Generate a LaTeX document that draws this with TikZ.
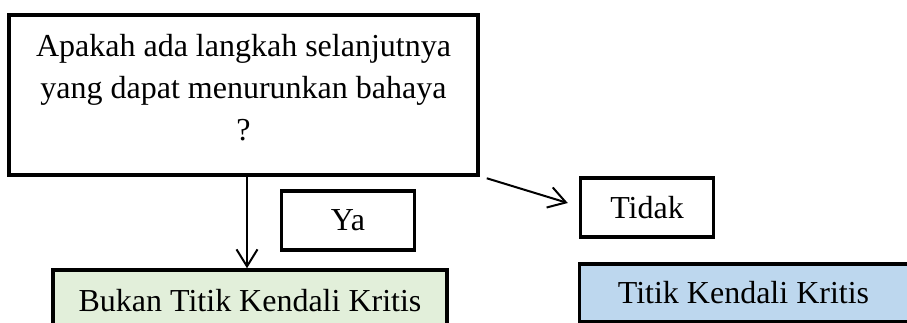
\documentclass[tikz,border=0pt]{standalone}
\usepackage{fontspec}
\setmainfont{Liberation Serif}
\usepackage{xcolor}
\usetikzlibrary{arrows.meta,positioning}
\definecolor{hijau}{RGB}{226,239,218}
\definecolor{biru}{RGB}{189,215,238}

\begin{document}
\begin{tikzpicture}[
  x=1pt,y=1pt,
  font=\fontsize{32}{42}\selectfont,
  box/.style={draw,line width=3.5pt,align=center,inner sep=0pt},
  qbox/.style={box,minimum width=469pt,minimum height=160pt},
  ansbox/.style={box,minimum width=133pt,minimum height=59pt},
  resbox/.style={box,minimum height=62pt},
  flow/.style={-{Straight Barb[length=17pt,width=21pt]},line width=2pt}
]
\path[use as bounding box,clip] (0,0) rectangle (907,-322);

\node[qbox] (q) at (243.5,-95) {};
\node[align=center] (qtext) at (243.5,-88) {Apakah ada langkah selanjutnya\\yang dapat menurunkan bahaya\\?};

\node[ansbox] (ya)    at (348,-220.5) {Ya};
\node[ansbox] (tidak) at (647,-207.5) {Tidak};

\node[resbox,fill=hijau,minimum width=394pt] (bukan) at (250,-301) {Bukan Titik Kendali Kritis};
% kotak kanan terpotong di tepi gambar
\node[fill=biru,inner sep=0pt,minimum width=327.5pt,minimum height=58pt,anchor=west] (titik) at (579.5,-293) {};
\draw[line width=3.5pt] (titik.north east) -- (titik.north west) -- (titik.south west) -- (titik.south east);
\node (titiktext) at (743.5,-293) {Titik Kendali Kritis};

\draw[flow] ([xshift=3.5pt]q.south) -- ([xshift=3.5pt]q.south |- bukan.north);
\draw[flow] ([shift={(7,-1.5)}]q.south east) -- ([shift={(-11,4.5)}]tidak.west);
\end{tikzpicture}
\end{document}
